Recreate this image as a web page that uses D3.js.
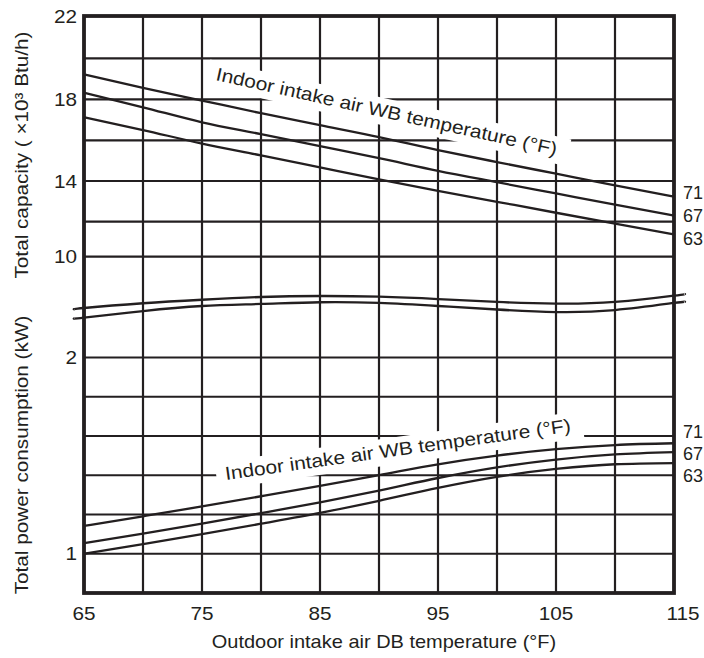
<!DOCTYPE html>
<html>
<head>
<meta charset="utf-8">
<script src="https://cdn.jsdelivr.net/npm/d3@7"></script>
<style>
  body { margin: 0; background: #fff; }
  text { font-family: "Liberation Sans", Arial, sans-serif; fill: #231f20; }
</style>
</head>
<body>
<svg id="chart" width="704" height="658"></svg>
<script>
// outdoor DB temperature (°F)
const temps = [65, 70, 75, 80, 85, 90, 95, 100, 105, 110, 115]
const wbLabels = ["71", "67", "63"]

// total capacity (x10^3 Btu/h) per indoor WB temperature
const capacity71 = [19.22, 18.56, 17.94, 17.32, 16.74, 16.16, 15.52, 14.93, 14.36, 13.79, 13.23]
const capacity67 = [18.32, 17.61, 16.88, 16.30, 15.71, 15.12, 14.50, 13.94, 13.39, 12.84, 12.30]
const capacity63 = [17.13, 16.50, 15.84, 15.26, 14.67, 14.08, 13.52, 12.98, 12.44, 11.89, 11.28]

// total power consumption (kW) per indoor WB temperature
const power71 = [1.142, 1.191, 1.241, 1.293, 1.346, 1.401, 1.456, 1.500, 1.533, 1.554, 1.563]
const power67 = [1.054, 1.103, 1.154, 1.207, 1.262, 1.322, 1.386, 1.440, 1.480, 1.506, 1.518]
const power63 = [1.000, 1.049, 1.100, 1.153, 1.208, 1.270, 1.336, 1.392, 1.432, 1.456, 1.462]

// axis ticks
const xGrid = [65, 70, 75, 80, 85, 90, 95, 100, 105, 110, 115]
const xLabels = [65, 75, 85, 95, 105, 115]
const capGrid = [10, 12, 14, 16, 18, 20, 22]
const capLabels = [10, 14, 18, 22]
const powerGrid = [0.8, 1.0, 1.2, 1.4, 1.6, 1.8, 2.0]
const powerLabels = [1, 2]

// axis-break wave, as a fraction of the gap between the two scales
const breakTemps = [64.2, 65, 70, 75, 80, 85, 90, 95, 100, 105, 110, 115, 115.9]
const breakUpper = [0.522, 0.509, 0.462, 0.427, 0.400, 0.390, 0.397, 0.420, 0.449, 0.466, 0.449, 0.387, 0.370]
const breakLower = [0.611, 0.605, 0.539, 0.489, 0.469, 0.452, 0.459, 0.489, 0.524, 0.549, 0.529, 0.459, 0.449]

const ink = "#231f20"
const svg = d3.select("#chart")

const x = d3.scaleLinear().domain([65, 115]).range([84, 674])
// the printed capacity grid is not quite evenly spaced
const yCap = d3.scaleLinear()
    .domain([10, 12, 14, 16, 18, 20, 22])
    .range([256.7, 221.7, 181, 140.3, 99.3, 58.3, 16])
const yPow = d3.scaleLinear().domain([0.8, 2.0]).range([593, 357.5])
const yBreak = d3.scaleLinear().domain([0, 1]).range([yCap(10), yPow(2)])

const plotTop = yCap(22), plotBottom = yPow(0.8)
const plotLeft = x(65), plotRight = x(115)

// stretch text horizontally (the source print is a little wide)
function stretch(sel, k) {
    sel.each(function () {
        this.setAttribute("textLength", this.getComputedTextLength() * k)
        this.setAttribute("lengthAdjust", "spacingAndGlyphs")
    })
}

// grid
const grid = svg.append("g").attr("stroke", ink).attr("stroke-width", 2.2)
grid.selectAll(".vx").data(xGrid).enter().append("line")
    .attr("x1", d => x(d)).attr("x2", d => x(d))
    .attr("y1", plotTop).attr("y2", plotBottom)
grid.selectAll(".hc").data(capGrid).enter().append("line")
    .attr("x1", plotLeft).attr("x2", plotRight)
    .attr("y1", d => yCap(d)).attr("y2", d => yCap(d))
grid.selectAll(".hp").data(powerGrid).enter().append("line")
    .attr("x1", plotLeft).attr("x2", plotRight)
    .attr("y1", d => yPow(d)).attr("y2", d => yPow(d))

svg.append("rect")
    .attr("x", plotLeft).attr("y", plotTop)
    .attr("width", plotRight - plotLeft).attr("height", plotBottom - plotTop)
    .attr("fill", "none").attr("stroke", ink).attr("stroke-width", 3.8)

// in-chart labels with white knock-out boxes
function curveLabel(tx, ty, angle, k) {
    const g = svg.append("g").attr("transform", `translate(${tx},${ty}) rotate(${angle})`)
    const bg = g.append("rect").attr("fill", "#fff")
    const t = g.append("text")
        .style("font-size", "18.5px")
        .text("Indoor intake air WB temperature (°F)")
    stretch(t, k)
    const b = t.node().getBBox()
    bg.attr("x", b.x - 9).attr("y", b.y - 2)
        .attr("width", b.width + 21).attr("height", b.height + 6)
}
curveLabel(215, 80, 12.5, 1.13)
curveLabel(226, 480, -8, 1.13)

// curves
const line = (yScale) => d3.line()
    .x((d, i) => x(temps[i]))
    .y(d => yScale(d))
    .curve(d3.curveMonotoneX)

const curves = svg.append("g").attr("fill", "none").attr("stroke", ink).attr("stroke-width", 2.3)
;[capacity71, capacity67, capacity63].forEach(s => curves.append("path").attr("d", line(yCap)(s)))
;[power71, power67, power63].forEach(s => curves.append("path").attr("d", line(yPow)(s)))

// axis break wave
const waveLine = d3.line()
    .x((d, i) => x(breakTemps[i]))
    .y(d => yBreak(d))
    .curve(d3.curveNatural)
;[breakUpper, breakLower].forEach(s => curves.append("path").attr("d", waveLine(s)))

// series labels at the right edge
svg.selectAll(".capLab").data(wbLabels).enter().append("text")
    .attr("x", plotRight + 9)
    .attr("y", (d, i) => yCap(capacity67[capacity67.length - 1]) + (i - 1) * 23 + 6.5)
    .style("font-size", "18px")
    .text(d => d)
svg.selectAll(".powLab").data(wbLabels).enter().append("text")
    .attr("x", plotRight + 9)
    .attr("y", (d, i) => yPow(power67[power67.length - 1]) + 1 + (i - 1) * 22 + 6.5)
    .style("font-size", "18px")
    .text(d => d)

// tick labels
svg.selectAll(".xl").data(xLabels).enter().append("text")
    .attr("x", d => x(d) + (d === 115 ? 9 : 0))
    .attr("y", 619.5)
    .attr("text-anchor", "middle")
    .style("font-size", "18.5px")
    .text(d => d)
    .call(stretch, 1.12)
svg.selectAll(".cl").data(capLabels).enter().append("text")
    .attr("x", plotLeft - 7)
    .attr("y", d => yCap(d) + 6.5)
    .attr("text-anchor", "end")
    .style("font-size", "18.5px")
    .text(d => d)
    .call(stretch, 1.12)
svg.selectAll(".pl").data(powerLabels).enter().append("text")
    .attr("x", plotLeft - 7)
    .attr("y", d => yPow(d) + 6.5)
    .attr("text-anchor", "end")
    .style("font-size", "18.5px")
    .text(d => d)
    .call(stretch, 1.12)

// axis titles
svg.append("text")
    .attr("x", 384).attr("y", 648)
    .attr("text-anchor", "middle")
    .style("font-size", "18.5px")
    .text("Outdoor intake air DB temperature (°F)")
    .call(stretch, 1.08)
svg.append("text")
    .attr("transform", "translate(28,155) rotate(-90)")
    .attr("text-anchor", "middle")
    .style("font-size", "18.5px")
    .text("Total capacity ( ×10³ Btu/h)")
    .call(stretch, 1.12)
svg.append("text")
    .attr("transform", "translate(28,455) rotate(-90)")
    .attr("text-anchor", "middle")
    .style("font-size", "18.5px")
    .text("Total power consumption (kW)")
    .call(stretch, 1.12)
</script>
</body>
</html>
